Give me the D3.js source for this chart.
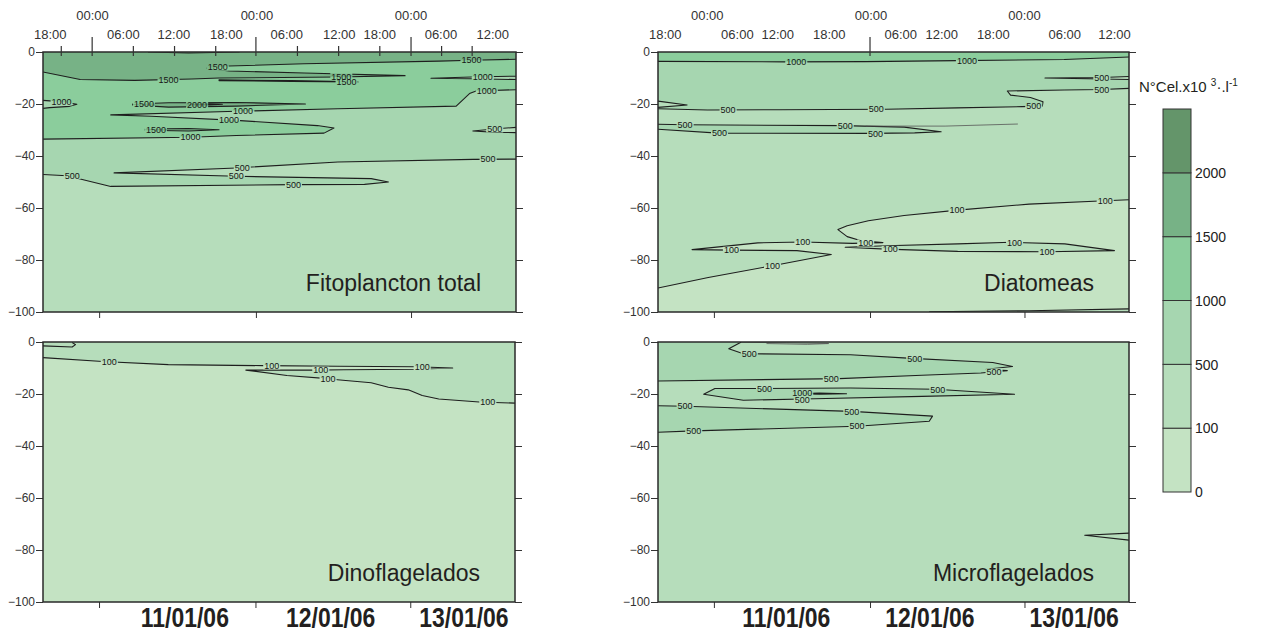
<!DOCTYPE html>
<html><head><meta charset="utf-8">
<script src="https://cdn.jsdelivr.net/npm/d3@7"></script>
<style>
body{margin:0;background:#fff;}
svg text{font-family:"Liberation Sans",Arial,sans-serif;}
</style></head><body>
<svg id="chart" width="1266" height="632"></svg>
<script>
// ================= DATA =================
const levelBreaks = [0, 100, 500, 1000, 1500, 2000];           // N°Cel.x10^3.l-1 class limits
const depthTicks = [0, -20, -40, -60, -80, -100];
const hourDomain = [-7.4, 63.8];                                 // hours from 00:00 11/01/06
const depthDomain = [0, -100];
const topMajorTicks = [0, 24.65, 48.0];
const topMinorTicks = [-4.65, 6.2, 12.4, 18.6, 30.9, 37.1, 43.3, 52.6, 57.2];
const topRow1Labels = ["00:00", "00:00", "00:00"];
const topRow1H = [0.05, 24.8, 48.0];
const topRow2Labels = ["18:00","06:00","12:00","18:00","06:00","12:00","18:00","06:00","12:00"];
const topRow2H_left = [-6.3, 4.7, 12.3, 20.2, 29.3, 37.2, 43.3, 52.5, 60.3];
const topRow2H_right = [-6.3, 4.6, 10.7, 18.5, 29.3, 35.5, 43.3, 54.1, 61.6];
const bottomTicks = [1.05, 24.65, 48.0];
const dateLabels = ["11/01/06", "12/01/06", "13/01/06"];
const dateLabelH_left = [14.0, 36.0, 56.1];
const dateLabelH_right = [12.0, 33.7, 55.5];
const panelTitles = ["Fitoplancton total", "Diatomeas", "Dinoflagelados", "Microflagelados"];

// ---- Fitoplancton total: contour lines [hour, depth] ----
const fito500  = [[63.8,-41.2],[57.3,-41.3],[37.0,-42.3],[21.7,-44.6],[3.3,-46.5],[21.7,-47.8],[42.0,-48.7],[44.6,-50.0],[41.0,-50.9],[30.3,-51.0],[2.8,-51.7],[-3.8,-47.6],[-7.4,-47.1]];
const fito500Lab = [[59.6,-41.25],[22.6,-44.5],[21.7,-47.8],[30.3,-51.0],[-3.0,-47.45]];
const fito500b = [[63.8,-29.0],[60.9,-29.5],[57.3,-30.4],[60.9,-30.9],[63.8,-31.0]];
const fito500bLab = [[60.6,-29.55]];
const fito1000 = [[63.8,-14.5],[57.8,-15.0],[56.8,-16.0],[54.8,-20.8],[37.0,-21.8],[21.7,-22.8],[2.8,-24.2],[8.9,-24.7],[21.7,-26.3],[33.9,-28.3],[36.4,-29.2],[34.9,-31.2],[21.7,-32.1],[14.8,-32.8],[-7.4,-33.5]];
const fito1000Lab = [[59.4,-14.8],[22.7,-22.75],[20.6,-26.2],[14.8,-32.8]];
const fito1000b = [[-7.4,-18.6],[-4.3,-19.2],[-2.3,-20.1],[-3.4,-20.9],[-6.4,-21.4],[-7.4,-21.7]];
const fito1000bLab = [[-4.6,-19.15]];
const fito1000c = [[63.8,-9.3],[57.1,-9.6],[51.0,-10.1],[57.1,-10.3],[63.8,-10.6]];
const fito1000cLab = [[58.8,-9.55]];
const fito1500 = [[63.8,-2.8],[57.1,-3.2],[52.2,-3.5],[31.9,-4.5],[20.6,-5.4],[17.3,-6.2],[20.6,-7.3],[31.9,-8.1],[47.1,-9.1],[37.0,-9.6],[19.1,-10.0],[15.0,-10.4],[6.4,-10.9],[-1.8,-10.6],[-7.4,-7.7]];
const fito1500Lab = [[57.1,-3.2],[18.9,-5.8],[37.5,-9.4],[11.5,-10.6]];
const fito1500b = [[6.1,-20.0],[11.5,-19.5],[21.7,-19.4],[32.1,-20.0],[21.7,-20.8],[11.5,-21.2],[6.1,-20.4]];
const fito1500bLab = [[7.8,-20.05]];
const fito1500c = [[8.0,-29.6],[14.5,-29.4],[19.1,-29.9],[14.5,-30.4],[8.0,-30.1]];
const fito1500cLab = [[9.6,-29.85]];
const fito1500d = [[19.1,-10.7],[30.0,-11.0],[40.0,-11.5],[30.0,-11.3],[19.1,-11.0]];
const fito1500dLab = [[38.3,-11.45]];
const fito1500e = [[8.4,0],[14.5,-0.4],[22.2,0]];
const fito2000 = [[14.3,-20.1],[17.6,-19.9],[19.6,-20.1],[17.6,-20.4],[14.3,-20.3]];
const fito2000Lab = [[15.8,-20.2]];

// ---- Diatomeas ----
const diat1000 = [[-7.4,-3.6],[11.9,-3.8],[24.0,-3.7],[37.8,-3.3],[54.0,-2.9],[63.8,-1.9]];
const diat1000Lab = [[13.5,-3.8],[39.3,-3.25]];
const diat500 = [[63.8,-14.0],[59.7,-14.4],[54.0,-14.6],[45.4,-15.0],[45.9,-16.6],[48.9,-17.5],[50.8,-19.1],[50.7,-20.8],[47.6,-21.0],[37.8,-21.5],[27.1,-22.0],[10.9,-22.2],[0.1,-22.3],[-7.4,-21.8]];
const diat500Lab = [[59.7,-14.4],[49.4,-20.9],[25.6,-22.05],[3.2,-22.25]];
const diat500a = [[63.8,-9.4],[59.7,-9.8],[51.1,-10.0],[59.7,-10.4],[63.8,-10.6]];
const diat500aLab = [[59.7,-9.8]];
const diat500b = [[-7.4,-18.9],[-3.0,-20.4],[-7.4,-21.3]];
const diat500c = [[-7.4,-27.8],[-3.3,-28.0],[20.6,-28.3],[29.8,-28.9],[35.4,-30.7],[31.4,-31.1],[24.9,-31.3],[1.7,-31.2],[-7.4,-29.7]];
const diat500cLab = [[-3.3,-28.0],[20.9,-28.3],[1.9,-31.2],[25.5,-31.3]];
const diat500d = [[24.0,-28.5],[36.0,-28.5],[47.0,-27.7]];
const diat100 = [[63.8,-56.8],[60.2,-57.2],[48.7,-58.5],[37.9,-60.8],[29.8,-62.9],[24.4,-64.9],[21.2,-66.8],[19.8,-68.3],[21.2,-71.0],[23.3,-72.6],[26.6,-73.3],[22.0,-73.6],[14.5,-73.1],[7.7,-73.4],[-2.25,-76.0],[3.7,-76.2],[13.6,-76.4],[18.8,-77.9],[9.9,-82.2],[0.2,-86.7],[-7.4,-90.8]];
const diat100Lab = [[60.2,-57.2],[37.8,-60.8],[14.5,-73.1],[3.7,-76.2],[9.9,-82.2],[24.0,-73.4]];
const diat100b = [[20.9,-75.1],[27.1,-74.5],[37.9,-73.8],[46.0,-73.2],[54.1,-73.8],[61.6,-76.4],[51.4,-76.8],[37.9,-76.7],[27.1,-75.8]];
const diat100bLab = [[46.5,-73.25],[51.4,-76.8],[27.7,-75.85]];
const diat100c = [[33.6,-99.9],[48.7,-99.5],[63.8,-98.8]];

// ---- Dinoflagelados ----
const dino100 = [[-7.4,-6.0],[1.6,-7.5],[11.5,-8.7],[25.8,-9.1],[37.0,-9.3],[48.8,-9.5],[54.4,-10.0],[48.8,-10.5],[38.0,-10.7],[33.4,-10.8],[23.2,-10.8],[29.4,-12.9],[35.5,-14.1],[37.0,-14.5],[42.1,-15.7],[44.7,-17.4],[47.7,-18.4],[49.8,-20.6],[52.3,-21.9],[58.4,-23.1],[63.8,-23.5]];
const dino100Lab = [[2.6,-7.6],[27.1,-9.1],[49.8,-9.55],[34.5,-10.8],[35.6,-14.15],[59.7,-23.2]];
const dino100b = [[-7.4,-1.5],[-3.0,-1.9],[-2.5,-1.0],[-3.0,-0.2]];

// ---- Microflagelados ----
const micro500 = [[5.2,0],[3.3,-2.6],[5.5,-4.5],[21.7,-4.9],[30.3,-6.2],[43.2,-7.9],[46.2,-9.4],[42.2,-10.5],[45.4,-11.0],[41.4,-11.9],[32.5,-12.8],[20.0,-14.1],[-7.4,-15.0]];
const micro500Lab = [[6.4,-4.5],[31.4,-6.35],[43.4,-11.45],[18.8,-14.15]];
const micro500a = [[5.2,-0.1],[12.0,-0.3],[18.4,-0.6],[15.2,-0.9],[9.0,-0.6]];
const micro500b = [[-0.5,-20.1],[1.2,-17.9],[7.6,-17.9],[21.7,-17.7],[34.6,-18.2],[46.5,-20.1],[32.5,-20.9],[16.3,-21.8],[5.5,-22.4]];
const micro500bLab = [[8.7,-17.9],[34.9,-18.25],[14.4,-22.2]];
const micro1000 = [[13.0,-19.9],[17.0,-19.6],[21.1,-19.9],[17.0,-20.1]];
const micro1000Lab = [[14.4,-19.4]];
const micro500c = [[-7.4,-24.5],[-3.3,-24.7],[21.9,-26.7],[34.1,-28.5],[33.6,-30.5],[22.7,-32.4],[-2.0,-34.2],[-7.4,-34.7]];
const micro500cLab = [[-3.3,-24.7],[21.9,-26.7],[22.7,-32.4],[-2.0,-34.2]];
const micro500d = [[63.8,-73.5],[57.1,-74.3],[63.8,-76.2]];

// ================= LAYOUT / STYLE =================
const levelFill = ["#c4e3c3", "#b6ddbb", "#a6d6b0", "#8bcd9c", "#77b286", "#64956a"];
const W = 1266, H = 632;
const svg = d3.select("#chart");
const defs = svg.append("defs");

const panels = [
  { id: "fito", x: 43, y: 52, w: 473, h: 260, title: panelTitles[0], base: 1, top: "left", dates: null,
    contours: [
      { v: 500, pts: fito500, lvl: 2, close: "top", lab: fito500Lab },
      { v: 500, pts: fito500b, lvl: 1, close: "self", lab: fito500bLab },
      { v: 1000, pts: fito1000, lvl: 3, close: "top", lab: fito1000Lab },
      { v: 1000, pts: fito1000b, lvl: 2, close: "self", lab: fito1000bLab },
      { v: 1000, pts: fito1000c, lvl: 2, close: "self", lab: fito1000cLab },
      { v: 1500, pts: fito1500, lvl: 4, close: "top", lab: fito1500Lab },
      { v: 1500, pts: fito1500b, lvl: 4, close: "ring", lab: fito1500bLab },
      { v: 1500, pts: fito1500c, lvl: 4, close: "ring", lab: fito1500cLab },
      { v: 1500, pts: fito1500d, lvl: 4, close: "ring", lab: fito1500dLab },
      { v: 1500, pts: fito1500e, lvl: 4, close: "none", lab: [] },
      { v: 2000, pts: fito2000, lvl: 5, close: "ring", lab: fito2000Lab }
    ] },
  { id: "diat", x: 658, y: 52, w: 471, h: 260, title: panelTitles[1], base: 0, top: "right", dates: null,
    contours: [
      { v: 100, pts: diat100, lvl: 1, close: "top", lab: diat100Lab },
      { v: 100, pts: diat100b, lvl: 1, close: "ring", lab: diat100bLab },
      { v: 100, pts: diat100c, lvl: 1, close: "bottom", lab: [] },
      { v: 500, pts: diat500, lvl: 2, close: "top", lab: diat500Lab },
      { v: 500, pts: diat500a, lvl: 1, close: "self", lab: diat500aLab },
      { v: 500, pts: diat500b, lvl: 1, close: "self", lab: [] },
      { v: 500, pts: diat500c, lvl: 2, close: "self", lab: diat500cLab },
      { v: 500, pts: diat500d, lvl: 2, close: "none", lab: [], faint: true },
      { v: 1000, pts: diat1000, lvl: 3, close: "top", lab: diat1000Lab }
    ] },
  { id: "dino", x: 43, y: 342, w: 472, h: 260, title: panelTitles[2], base: 0, top: null, dates: dateLabelH_left,
    contours: [
      { v: 100, pts: dino100, lvl: 1, close: "top", lab: dino100Lab },
      { v: 100, pts: dino100b, lvl: 1, close: "none", lab: [] }
    ] },
  { id: "micro", x: 658, y: 342, w: 471, h: 260, title: panelTitles[3], base: 1, top: null, dates: dateLabelH_right,
    contours: [
      { v: 500, pts: micro500, lvl: 2, close: "top", lab: micro500Lab },
      { v: 500, pts: micro500a, lvl: 2, close: "none", lab: [], faint: true },
      { v: 500, pts: micro500b, lvl: 2, close: "ring", lab: micro500bLab },
      { v: 1000, pts: micro1000, lvl: 3, close: "ring", lab: micro1000Lab },
      { v: 500, pts: micro500c, lvl: 2, close: "self", lab: micro500cLab },
      { v: 500, pts: micro500d, lvl: 1, close: "none", lab: [] }
    ] }
];

const edgeH = h => h <= hourDomain[0] + 0.05 ? hourDomain[0] - 3 : (h >= hourDomain[1] - 0.05 ? hourDomain[1] + 3 : h);

panels.forEach(p => {
  const x = d3.scaleLinear().domain(hourDomain).range([p.x, p.x + p.w]);
  const y = d3.scaleLinear().domain(depthDomain).range([p.y, p.y + p.h]);
  const line = d3.line().x(d => x(d[0])).y(d => y(d[1]));

  defs.append("clipPath").attr("id", "clip-" + p.id)
    .append("rect").attr("x", p.x).attr("y", p.y).attr("width", p.w).attr("height", p.h);

  const plot = svg.append("g").attr("clip-path", `url(#clip-${p.id})`);
  plot.append("rect").attr("x", p.x).attr("y", p.y).attr("width", p.w).attr("height", p.h)
    .attr("fill", levelFill[p.base]);

  p.contours.filter(c => c.close !== "none").forEach(c => {
    const f = c.pts[0], l = c.pts[c.pts.length - 1];
    let poly = c.pts.slice();
    if (c.close === "top" || c.close === "bottom") {
      const yy = c.close === "top" ? depthDomain[0] + 3 : depthDomain[1] - 3;
      poly = poly.concat([[edgeH(l[0]), l[1]], [edgeH(l[0]), yy], [edgeH(f[0]), yy], [edgeH(f[0]), f[1]]]);
    } else if (c.close === "self") {
      poly = poly.concat([[edgeH(l[0]), l[1]], [edgeH(f[0]), f[1]]]);
    }
    plot.append("path").attr("d", line(poly) + "Z").attr("fill", levelFill[c.lvl]).attr("stroke", "none");
  });

  const lineG = plot.append("g").attr("mask", `url(#mask-${p.id})`);
  p.contours.forEach(c => {
    lineG.append("path").attr("d", line(c.pts) + (c.close === "ring" ? "Z" : ""))
      .attr("fill", "none").attr("stroke", c.faint ? "#555" : "#1e1e1e")
      .attr("stroke-width", c.faint ? 0.8 : 1.1).attr("stroke-linejoin", "round");
  });

  const labG = plot.append("g").attr("font-size", 9).attr("fill", "#151515");
  p.contours.forEach(c => c.lab.forEach(pt => {
    labG.append("text").attr("x", x(pt[0])).attr("y", y(pt[1])).attr("dy", "0.35em")
      .attr("text-anchor", "middle").text(c.v);
  }));

  const mask = defs.append("mask").attr("id", "mask-" + p.id).attr("maskUnits", "userSpaceOnUse")
    .attr("x", 0).attr("y", 0).attr("width", W).attr("height", H);
  mask.append("rect").attr("x", 0).attr("y", 0).attr("width", W).attr("height", H).attr("fill", "white");
  labG.selectAll("text").each(function () {
    const b = this.getBBox();
    mask.append("rect").attr("x", b.x - 1).attr("y", b.y + 1.5).attr("width", b.width + 2)
      .attr("height", Math.max(b.height - 3, 1)).attr("fill", "black");
  });

  svg.append("text").attr("x", p.x + p.w - 35).attr("y", p.y + p.h - 21)
    .attr("text-anchor", "end").attr("font-size", 23).attr("fill", "#231f20").text(p.title);

  const axL = svg.append("g").attr("transform", `translate(${p.x},0)`)
    .call(d3.axisLeft(y).tickValues(depthTicks).tickSize(7).tickPadding(1).tickFormat(d3.format("d")));
  axL.select(".domain").remove();
  axL.selectAll("text").attr("font-size", 12).attr("fill", "#333").attr("font-family", "Liberation Sans, Arial, sans-serif");
  axL.selectAll("line").attr("stroke", "#333");

  const axR = svg.append("g").attr("transform", `translate(${p.x + p.w},0)`)
    .call(d3.axisRight(y).tickValues(depthTicks).tickSize(7).tickFormat(""));
  axR.select(".domain").remove();
  axR.selectAll("line").attr("stroke", "#333");

  const axB = svg.append("g").attr("transform", `translate(0,${p.y + p.h})`)
    .call(d3.axisBottom(x).tickValues(bottomTicks).tickSize(6).tickFormat(""));
  axB.select(".domain").remove();
  axB.selectAll("line").attr("stroke", "#333");

  svg.append("rect").attr("x", p.x).attr("y", p.y).attr("width", p.w).attr("height", p.h)
    .attr("fill", "none").attr("stroke", "#2a2a2a").attr("stroke-width", 1.5);

  if (p.top) {
    const tg = svg.append("g");
    const majors = p.top === "left" ? topMajorTicks : [topMajorTicks[1]];
    tg.selectAll("line.maj").data(majors).join("line")
      .attr("x1", d => x(d)).attr("x2", d => x(d)).attr("y1", p.y - 15).attr("y2", p.y + 4)
      .attr("stroke", "#333").attr("stroke-width", 1.2);
    if (p.top === "left") {
      tg.selectAll("line.min").data(topMinorTicks).join("line")
        .attr("x1", d => x(d)).attr("x2", d => x(d)).attr("y1", p.y - 6).attr("y2", p.y + 4)
        .attr("stroke", "#333").attr("stroke-width", 1.2);
    }
    tg.selectAll("text.r1").data(topRow1Labels).join("text")
      .attr("x", (d, i) => x(topRow1H[i])).attr("y", 20).attr("text-anchor", "middle")
      .attr("font-size", 13).attr("fill", "#333").text(d => d);
    const r2 = p.top === "left" ? topRow2H_left : topRow2H_right;
    tg.selectAll("text.r2").data(topRow2Labels).join("text")
      .attr("x", (d, i) => x(r2[i])).attr("y", 39).attr("text-anchor", "middle")
      .attr("font-size", 13).attr("fill", "#333").text(d => d);
  }

  if (p.dates) {
    dateLabels.forEach((t, i) => {
      svg.append("text").attr("transform", `translate(${x(p.dates[i])},627) scale(0.82,1)`)
        .attr("text-anchor", "middle").attr("font-size", 28).attr("font-weight", "bold")
        .attr("fill", "#231f20").text(t);
    });
  }
});

// ================= LEGEND =================
const ly = d3.scaleLinear().domain([0, levelBreaks.length]).range([492, 109]);
const lg = svg.append("g");
levelBreaks.forEach((b, i) => {
  lg.append("rect").attr("x", 1163).attr("y", ly(i + 1)).attr("width", 28).attr("height", ly(i) - ly(i + 1))
    .attr("fill", levelFill[i]).attr("stroke", "#333").attr("stroke-width", 1);
  lg.append("text").attr("x", 1195).attr("y", ly(i)).attr("dy", "0.38em")
    .attr("font-size", 14).attr("fill", "#222").text(b);
});
const lt = svg.append("text").attr("x", 1139).attr("y", 92).attr("font-size", 15).attr("fill", "#231f20");
lt.append("tspan").text("N°Cel.x10 ");
lt.append("tspan").attr("font-size", 10).attr("dy", -6).text("3");
lt.append("tspan").attr("dy", 6).text("·.l");
lt.append("tspan").attr("font-size", 10).attr("dy", -6).text("-1");
</script>
</body></html>
